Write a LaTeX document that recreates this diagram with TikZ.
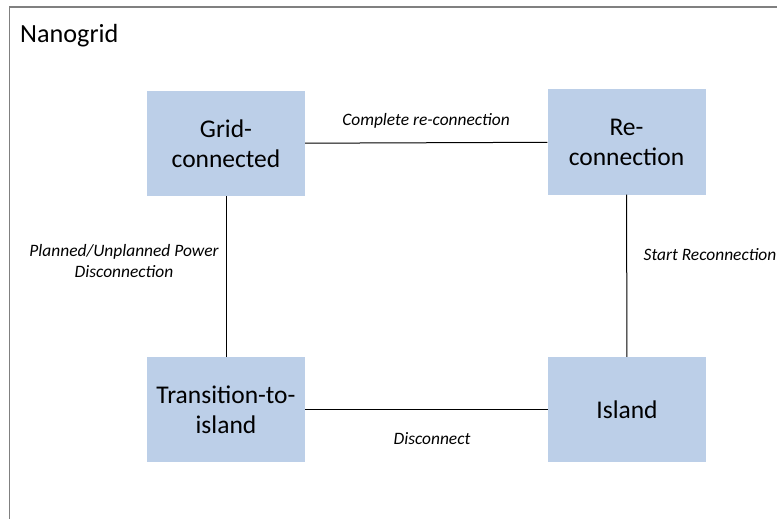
\documentclass[tikz,border=0pt]{standalone}
\usepackage{fontspec}
\setmainfont{Carlito}
\usetikzlibrary{positioning}

\definecolor{paleblue}{RGB}{188,207,232}
\definecolor{framegray}{RGB}{128,128,128}

\begin{document}
\begin{tikzpicture}[x=1pt,y=-1pt,
		state/.style={fill=paleblue,minimum width=158pt,minimum height=105pt,inner sep=0pt,align=center,font=\fontsize{25.5}{30}\selectfont},
		tag/.style={align=center,inner sep=0pt,font=\fontsize{17.4}{20.5}\selectfont\itshape}]
		\useasboundingbox (0,0) rectangle (777,519);
		
		% frame
		\draw[framegray,line width=1.5pt] (9.5,519) -- (9.5,7) -- (777,7);
		\node[anchor=base west,inner sep=0pt,font=\fontsize{26.2}{30}\selectfont] (title) at (20,43) {Nanogrid};
		
		\node[state] (grid) at (226,143.5) {Grid-\\connected};
		\node[state] (reconn) at (626.5,142) {Re-\\connection};
		\node[state] (trans) at (226,409.5) {Transition-to-\\island};
		\node[state] (island) at (627,409.5) {Island};
		
		\draw[line width=1pt] (grid) -- (reconn);
		\draw[line width=1pt] (reconn) -- (island);
		\draw[line width=1pt] (grid) -- (trans);
		\draw[line width=1pt] (trans) -- (island);
		
		\node[tag] (lcomplete) at (426,121) {Complete re-connection};
		\node[tag] (lstart) at (710,255) {Start Reconnection};
		\node[tag] (lplanned) at (124,261) {Planned/Unplanned Power\\Disconnection};
		\node[tag] (ldisc) at (432,439) {Disconnect};
	
	\end{tikzpicture}
\end{document}
